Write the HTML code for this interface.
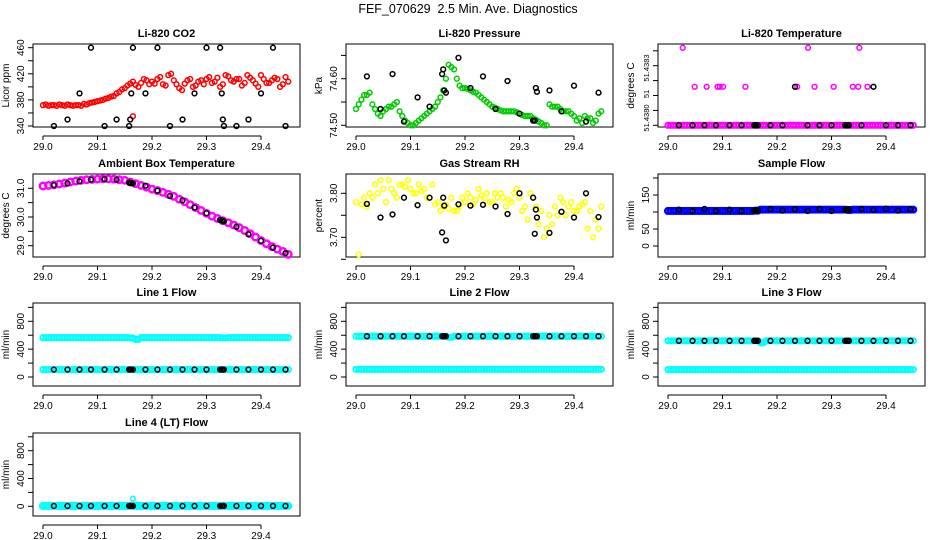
<!DOCTYPE html>
<html><head><meta charset="utf-8"><style>
body{margin:0;background:#fff;}
svg{display:block;font-family:"Liberation Sans",sans-serif;}
</style></head><body>
<svg id="chart" width="936" height="540" viewBox="0 0 936 540" xmlns="http://www.w3.org/2000/svg">
<rect width="936" height="540" fill="#fff"/>
<text x="468" y="13" text-anchor="middle" font-size="12.5" style="white-space:pre">FEF_070629&#160; 2.5 Min. Ave. Diagnostics</text>
</svg>
<script>
// ---- data ----
const gridT = [29.00,29.01,29.02,29.03,29.04,29.05,29.06,29.07,29.08,29.09,29.10,29.11,29.12,29.13,29.14,29.15,29.16,29.17,29.18,29.19,29.20,29.21,29.22,29.23,29.24,29.25,29.26,29.27,29.28,29.29,29.30,29.31,29.32,29.33,29.34,29.35,29.36,29.37,29.38,29.39,29.40,29.41,29.42,29.43,29.44,29.45];
const gridT2 = [29.005,29.015,29.025,29.035,29.045,29.055,29.065,29.075,29.085,29.095,29.105,29.115,29.125,29.135,29.145,29.155,29.165,29.175,29.185,29.195,29.205,29.215,29.225,29.235,29.245,29.255,29.265,29.275,29.285,29.295,29.305,29.315,29.325,29.335,29.345,29.355,29.365,29.375,29.385,29.395,29.405,29.415,29.425,29.435,29.445];
const blackT = [29.02,29.045,29.067,29.088,29.113,29.135,29.158,29.16,29.162,29.165,29.188,29.21,29.233,29.256,29.278,29.30,29.325,29.328,29.33,29.332,29.355,29.377,29.40,29.422,29.445];

const co2A = [372,371,372,373,371,372,372,371,373,376,378,380,383,386,392,398,405,403,406,410,408,412,404,418,410,398,405,412,402,410,412,406,414,404,416,408,412,406,414,405,418,406,410,412,404,408];
const co2B = [373,372,371,372,373,371,372,374,375,377,379,382,385,390,396,402,408,400,412,404,405,415,402,420,404,395,410,400,408,404,415,408,400,418,410,412,402,418,410,400,412,406,414,400,415];
const co2Black = [340,350,390,460,340,350,340,350,390,460,390,460,340,350,390,460,460,390,350,340,340,350,390,460,340];

const presA = [74.535,74.555,74.565,74.545,74.525,74.53,74.54,74.545,74.53,74.51,74.50,74.505,74.515,74.525,74.535,74.55,74.575,74.63,74.62,74.585,74.58,74.575,74.57,74.56,74.55,74.54,74.535,74.53,74.53,74.53,74.525,74.52,74.52,74.512,74.505,74.50,74.54,74.54,74.53,74.53,74.52,74.515,74.52,74.515,74.51,74.53];
const presB = [74.545,74.565,74.57,74.535,74.52,74.535,74.54,74.55,74.52,74.505,74.50,74.51,74.52,74.53,74.54,74.56,74.60,74.625,74.60,74.58,74.578,74.572,74.565,74.555,74.545,74.538,74.532,74.53,74.53,74.528,74.522,74.52,74.515,74.508,74.50,74.545,74.54,74.535,74.53,74.525,74.51,74.505,74.515,74.505,74.525];
const presBlack = [74.605,74.535,74.61,74.508,74.56,74.54,74.61,74.62,74.575,74.57,74.645,74.58,74.605,74.535,74.595,74.525,74.51,74.51,74.58,74.572,74.575,74.53,74.585,74.508,74.57];

const tempA = [51.438,51.438,51.438,51.438,51.438,51.438,51.438,51.438,51.438,51.438,51.438,51.438,51.438,51.438,51.438,51.438,51.438,51.438,51.438,51.438,51.438,51.438,51.438,51.438,51.438,51.438,51.438,51.438,51.438,51.438,51.438,51.438,51.438,51.438,51.438,51.438,51.438,51.438,51.438,51.438,51.438,51.438,51.438,51.438,51.438,51.438];
const tempB = [51.438,51.438,51.438,51.438,51.438,51.438,51.438,51.438,51.438,51.438,51.438,51.438,51.438,51.438,51.438,51.438,51.438,51.438,51.438,51.438,51.438,51.438,51.438,51.438,51.438,51.438,51.438,51.438,51.438,51.438,51.438,51.438,51.438,51.438,51.438,51.438,51.438,51.438,51.438,51.438,51.438,51.438,51.438,51.438,51.438];
const tempExtraT = [29.027,29.049,29.071,29.091,29.095,29.101,29.142,29.237,29.257,29.269,29.304,29.339,29.349,29.351,29.366];
const tempExtraV = [51.43839,51.438194,51.438194,51.438194,51.438194,51.438194,51.438194,51.438194,51.43839,51.438194,51.438194,51.438194,51.438194,51.43839,51.438194];
const tempBlack = [51.438,51.438,51.438,51.438,51.438,51.438,51.438,51.438,51.438,51.438,51.438,51.438,51.438194,51.438,51.438,51.438,51.438,51.438,51.438,51.438,51.438,51.438194,51.438,51.438,51.438];

const ambA = [31.08,31.10,31.12,31.15,31.18,31.22,31.25,31.28,31.30,31.31,31.32,31.33,31.33,31.32,31.30,31.28,31.22,31.16,31.10,31.04,30.97,30.92,30.86,30.79,30.72,30.62,30.53,30.43,30.33,30.23,30.13,30.03,29.95,29.87,29.80,29.72,29.63,29.53,29.42,29.30,29.18,29.07,28.97,28.88,28.80,28.70];
const ambBlack = [31.11,31.17,31.24,31.30,31.32,31.30,31.20,31.19,31.18,31.17,31.09,30.92,30.73,30.58,30.33,30.13,29.90,29.88,29.86,29.85,29.66,29.40,29.17,28.93,28.74];

const rhA = [3.78,3.775,3.77,3.79,3.80,3.81,3.83,3.80,3.82,3.815,3.81,3.80,3.805,3.79,3.82,3.78,3.77,3.765,3.76,3.77,3.78,3.79,3.785,3.795,3.80,3.78,3.79,3.79,3.785,3.80,3.79,3.77,3.80,3.77,3.76,3.72,3.73,3.75,3.78,3.77,3.76,3.77,3.78,3.76,3.74,3.77];
const rhB = [3.661,3.79,3.80,3.82,3.83,3.78,3.81,3.79,3.82,3.83,3.80,3.82,3.81,3.79,3.775,3.76,3.775,3.79,3.76,3.79,3.80,3.775,3.81,3.79,3.78,3.80,3.80,3.77,3.78,3.81,3.76,3.74,3.79,3.73,3.70,3.75,3.77,3.79,3.75,3.78,3.76,3.775,3.72,3.70,3.72];
const rhBlack = [3.776,3.745,3.752,3.79,3.773,3.79,3.711,3.79,3.772,3.693,3.775,3.772,3.774,3.77,3.753,3.80,3.79,3.708,3.763,3.745,3.71,3.758,3.745,3.80,3.746];

const sampA = [103,103,103,103,103,103,103,103,103,103,103,103,103,103,103,103,104,107,107,107,107,107,107,107,107,107,107,107,107,107,107,107,107,106,107,107,107,107,107,107,107,107,107,107,107,107];
const sampBlack = [107,103,109,103,107,103,104,105,106,104,109,104,108,103,109,103,106,107,108,106,109,106,110,104,108];

const l1Up = [565,565,565,565,565,565,565,565,565,565,565,565,565,565,565,565,560,540,565,565,565,565,565,565,565,565,565,565,565,565,565,565,565,560,565,565,565,565,565,565,565,565,565,565,565,565];
const l1Lo = [107,107,107,107,107,107,107,107,107,107,107,107,107,107,107,107,107,107,107,107,107,107,107,107,107,107,107,107,107,107,107,107,107,107,107,107,107,107,107,107,107,107,107,107,107,107];
const l1Black = [107,107,107,107,107,107,107,107,107,107,107,107,107,107,107,107,107,107,107,107,107,107,107,107,107];

const l2Up = [585,585,585,585,585,585,585,585,585,585,585,585,585,585,585,585,585,570,585,585,585,585,585,585,585,585,585,585,585,585,585,585,585,585,585,585,585,585,585,585,585,585,585,585,585,585];
const l2Lo = [110,110,110,110,110,110,110,110,110,110,110,110,110,110,110,110,110,110,110,110,110,110,110,110,110,110,110,110,110,110,110,110,110,110,110,110,110,110,110,110,110,110,110,110,110,110];
const l2Black = [585,585,585,585,585,585,585,585,585,585,585,585,585,585,585,585,585,585,585,585,585,585,585,585,585];

const l3Up = [520,520,520,520,520,520,520,520,520,520,520,520,520,520,520,520,520,490,520,520,520,520,520,520,520,520,520,520,520,520,520,520,520,520,520,520,520,520,520,520,520,520,520,520,520,520];
const l3Lo = [107,107,107,107,107,107,107,107,107,107,107,107,107,107,107,107,107,107,107,107,107,107,107,107,107,107,107,107,107,107,107,107,107,107,107,107,107,107,107,107,107,107,107,107,107,107];
const l3Black = [520,520,520,520,520,520,520,520,520,520,520,520,520,520,520,520,520,520,520,520,520,520,520,520,520];

const l4A = [5,5,5,5,5,5,5,5,5,5,5,5,5,5,5,5,5,5,5,5,5,5,5,5,5,5,5,5,5,5,5,5,5,5,5,5,5,5,5,5,5,5,5,5,5,5];
const l4ExtraT = [29.165];
const l4ExtraV = [110];
const l4Black = [5,5,5,5,5,5,5,5,5,5,5,5,5,5,5,5,5,5,5,5,5,5,5,5,5];

const xTicks = [29.0,29.1,29.2,29.3,29.4];
const xTickLabels = ["29.0","29.1","29.2","29.3","29.4"];

// ---- layout ----
const NS = "http://www.w3.org/2000/svg";
const svg = document.getElementById("chart");
const colL = [33,346,658], rowT = [44,174,303,433], BW = 267, BH = 83;
function mk(tag, attrs, parent){ const e=document.createElementNS(NS,tag); for(const k in attrs) e.setAttribute(k,attrs[k]); (parent||svg).appendChild(e); return e; }

function panel(cfg){
  const L = colL[cfg.col], T = rowT[cfg.row];
  const g = mk("g",{});
  
  
  const xs = t => L + 10 + (t-29)*545;
  const ys = v => T + cfg.off0 + (v-cfg.v0)/(cfg.v1-cfg.v0)*(cfg.off1-cfg.off0);
  const box = mk("rect",{x:L,y:T,width:BW,height:BH,fill:"none",stroke:"#000","stroke-width":1},g);
  
  
  const tt = mk("text",{x:L+BW/2,y:T-7,"text-anchor":"middle","font-size":"11","font-weight":"bold"},g);
  tt.textContent = cfg.title;
  
  
  const ay = T+BH+9;
  const xa = mk("line",{x1:xs(29.0),x2:xs(29.4),y1:ay,y2:ay,stroke:"#000"},g);
  
  
  xTicks.forEach((t,i)=>{
    mk("line",{x1:xs(t),x2:xs(t),y1:ay,y2:ay+4,stroke:"#000"},g);
    const lb = mk("text",{x:xs(t),y:ay+14,"text-anchor":"middle","font-size":"10"},g);
    lb.textContent = xTickLabels[i];
    
    
  });
  cfg.ticks.forEach(v=>{ mk("line",{x1:L-5,x2:L,y1:ys(v),y2:ys(v),stroke:"#000"},g); });
  cfg.labels.forEach(lab=>{
    const y = lab[2]!==undefined ? T+lab[2] : ys(lab[0]);
    const t = mk("text",{x:L-9,y:y,"text-anchor":"middle","font-size":cfg.labelSize||"10",transform:`rotate(-90 ${L-9} ${y})`},g);
    t.textContent = lab[1];
    
    
  });
  const yt = mk("text",{x:L-24,y:T+BH/2,"text-anchor":"middle","font-size":"10",transform:`rotate(-90 ${L-24} ${T+BH/2})`},g);
  yt.textContent = cfg.ytitle;
  
  
  cfg.series.forEach(s=>{
    s.t.forEach((t,i)=>{
      const v = s.v[i];
      const c = mk("circle",{cx:xs(t),cy:ys(v),r:s.r||2.4,fill:"none",stroke:s.color,"stroke-width":s.sw||1.5},g);
      
      
    });
  });
}

const flowTicks = [0,200,400,600,800,1000];
const flowLabels = [[0,"0"],[400,"400"],[800,"800"]];

panel({name:"panel-co2",col:0,row:0,title:"Li-820 CO2",ytitle:"Licor ppm",v0:340,off0:82,v1:460,off1:3.7,
  ticks:[340,360,380,400,420,440,460],labels:[[340,"340"],[380,"380"],[420,"420"],[460,"460"]],
  series:[{name:"co2-point",t:gridT,v:co2A,color:"#ff0000"},{name:"co2-point",t:gridT2,v:co2B,color:"#ff0000"},{name:"co2-point",t:[29.165],v:[355],color:"#ff0000"},{name:"co2-check-point",t:blackT,v:co2Black,color:"#000"}]});
panel({name:"panel-pressure",col:1,row:0,title:"Li-820 Pressure",ytitle:"kPa",v0:74.5,off0:81.3,v1:74.6,off1:34.7,
  ticks:[74.50,74.55,74.60,74.65],labels:[[74.50,"74.50"],[74.60,"74.60"]],
  series:[{name:"pressure-point",t:gridT,v:presA,color:"#00cc00"},{name:"pressure-point",t:gridT2,v:presB,color:"#00cc00"},{name:"pressure-check-point",t:blackT,v:presBlack,color:"#000"}]});
panel({name:"panel-li820-temp",col:2,row:0,title:"Li-820 Temperature",ytitle:"degrees C",v0:51.438,off0:81.3,v1:51.4383,off1:21.7,labelSize:"7.5",
  ticks:[51.438,51.438075,51.43815,51.438225,51.4383,51.438375],labels:[[0,"51.4380",74],[0,"51",50],[0,"51.4383",24]],
  series:[{name:"temp-point",t:gridT,v:tempA,color:"#ff00ff",r:2.6,sw:2},{name:"temp-point",t:gridT2,v:tempB,color:"#ff00ff",r:2.6,sw:2},{name:"temp-point",t:tempExtraT,v:tempExtraV,color:"#ff00ff"},{name:"temp-check-point",t:blackT,v:tempBlack,color:"#000"}]});
panel({name:"panel-ambient-temp",col:0,row:1,title:"Ambient Box Temperature",ytitle:"degrees C",v0:31,off0:14.3,v1:29,off1:71.7,
  ticks:[29,29.5,30,30.5,31],labels:[[29,"29.0"],[30,"30.0"],[31,"31.0"]],
  series:[{name:"ambient-point",t:gridT,v:ambA,color:"#ff00ff",r:3.2,sw:2.5},{name:"ambient-check-point",t:blackT,v:ambBlack,color:"#000"}]});
panel({name:"panel-rh",col:1,row:1,title:"Gas Stream RH",ytitle:"percent",v0:3.8,off0:19.3,v1:3.7,off1:63.3,
  ticks:[3.65,3.70,3.75,3.80],labels:[[3.70,"3.70"],[3.80,"3.80"]],
  series:[{name:"rh-point",t:gridT,v:rhA,color:"#ffff00"},{name:"rh-point",t:gridT2,v:rhB,color:"#ffff00"},{name:"rh-check-point",t:blackT,v:rhBlack,color:"#000"}]});
panel({name:"panel-sample-flow",col:2,row:1,title:"Sample Flow",ytitle:"ml/min",v0:0,off0:72,v1:150,off1:21,
  ticks:[0,50,100,150,200],labels:[[0,"0"],[50,"50"],[150,"150"]],
  series:[{name:"sample-flow-point",t:gridT,v:sampA,color:"#0000ff",r:2.8,sw:2.5},{name:"sample-flow-point",t:gridT2,v:sampA.slice(0,45),color:"#0000ff",r:2.8,sw:2.5},{name:"sample-check-point",t:blackT,v:sampBlack,color:"#000"}]});
panel({name:"panel-line1-flow",col:0,row:2,title:"Line 1 Flow",ytitle:"ml/min",v0:0,off0:74,v1:800,off1:18.3,ticks:flowTicks,labels:flowLabels,
  series:[{name:"line1-flow-point",t:gridT,v:l1Up,color:"#00ffff",r:2.6,sw:2},{name:"line1-flow-point",t:gridT2,v:l1Up.slice(0,45),color:"#00ffff",r:2.6,sw:2},{name:"line1-flow-point",t:gridT,v:l1Lo,color:"#00ffff",r:2.6,sw:2},{name:"line1-flow-point",t:gridT2,v:l1Lo.slice(0,45),color:"#00ffff",r:2.6,sw:2},{name:"line1-check-point",t:blackT,v:l1Black,color:"#000"}]});
panel({name:"panel-line2-flow",col:1,row:2,title:"Line 2 Flow",ytitle:"ml/min",v0:0,off0:74,v1:800,off1:18.3,ticks:flowTicks,labels:flowLabels,
  series:[{name:"line2-flow-point",t:gridT,v:l2Up,color:"#00ffff",r:2.6,sw:2},{name:"line2-flow-point",t:gridT2,v:l2Up.slice(0,45),color:"#00ffff",r:2.6,sw:2},{name:"line2-flow-point",t:gridT,v:l2Lo,color:"#00ffff",r:2.6,sw:2},{name:"line2-flow-point",t:gridT2,v:l2Lo.slice(0,45),color:"#00ffff",r:2.6,sw:2},{name:"line2-check-point",t:blackT,v:l2Black,color:"#000"}]});
panel({name:"panel-line3-flow",col:2,row:2,title:"Line 3 Flow",ytitle:"ml/min",v0:0,off0:74,v1:800,off1:18.3,ticks:flowTicks,labels:flowLabels,
  series:[{name:"line3-flow-point",t:gridT,v:l3Up,color:"#00ffff",r:2.6,sw:2},{name:"line3-flow-point",t:gridT2,v:l3Up.slice(0,45),color:"#00ffff",r:2.6,sw:2},{name:"line3-flow-point",t:gridT,v:l3Lo,color:"#00ffff",r:2.6,sw:2},{name:"line3-flow-point",t:gridT2,v:l3Lo.slice(0,45),color:"#00ffff",r:2.6,sw:2},{name:"line3-check-point",t:blackT,v:l3Black,color:"#000"}]});
panel({name:"panel-line4-flow",col:0,row:3,title:"Line 4 (LT) Flow",ytitle:"ml/min",v0:0,off0:73.3,v1:800,off1:17.7,ticks:flowTicks,labels:flowLabels,
  series:[{name:"line4-flow-point",t:gridT,v:l4A,color:"#00ffff",r:2.8,sw:2.5},{name:"line4-flow-point",t:gridT2,v:l4A.slice(0,45),color:"#00ffff",r:2.8,sw:2.5},{name:"line4-flow-point",t:l4ExtraT,v:l4ExtraV,color:"#00ffff"},{name:"line4-check-point",t:blackT,v:l4Black,color:"#000"}]});
</script>
</body></html>
